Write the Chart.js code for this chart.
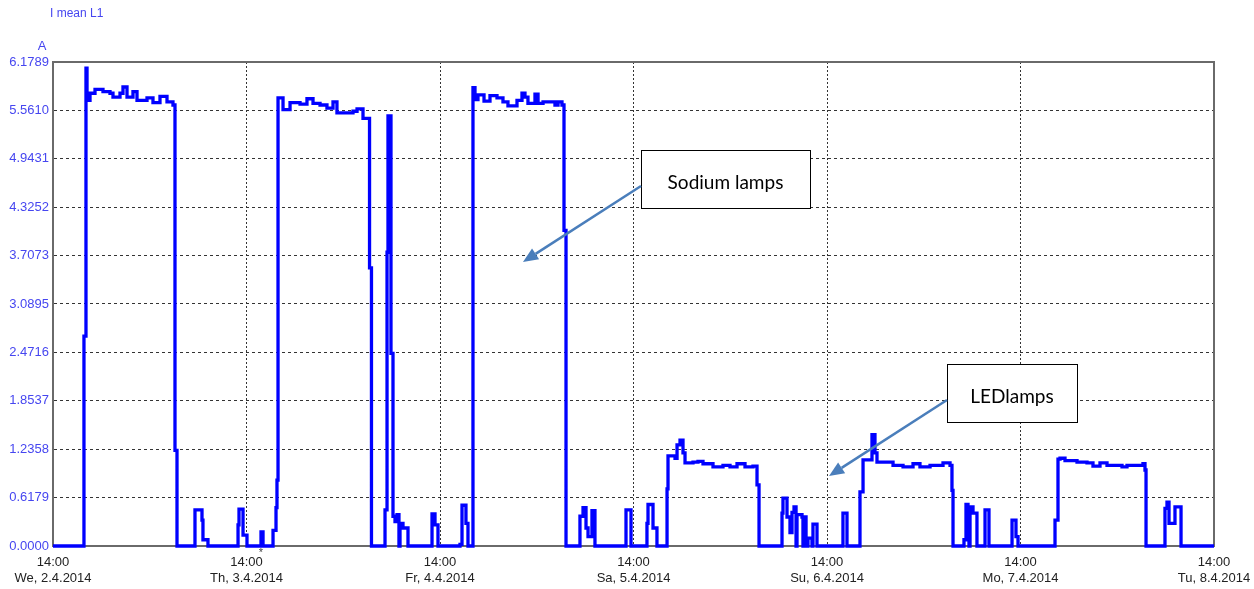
<!DOCTYPE html>
<html><head><meta charset="utf-8">
<script src="https://cdn.jsdelivr.net/npm/chart.js@4/dist/chart.umd.min.js"></script>
<style>html,body{margin:0;padding:0;background:#fff}</style>
</head><body>
<canvas id="c" width="1254" height="589"></canvas>
<script>
// time in hours after We, 2.4.2014 14:00 ; value in A (step changes)
const hours = [0,3.84,4.09,4.22,4.59,5.21,6.20,7.07,7.44,8.31,8.68,9.18,9.92,10.42,11.66,12.40,13.27,14.14,14.88,15.13,15.38,
17.61,18.48,18.60,19.22,22.95,23.07,23.57,24.06,25.80,26.05,27.29,27.66,27.78,
27.91,28.53,29.40,30.64,31.50,32.25,33.12,33.98,34.73,35.22,37.21,37.71,38.45,39.26,39.50,
41.18,41.43,41.55,41.92,42.17,42.42,42.67,42.91,43.04,43.41,44.03,47.01,47.38,47.75,50.48,50.73,51.22,51.47,
52.09,52.34,52.71,53.46,54.20,55.07,55.81,56.43,57.55,58.17,58.54,58.91,59.78,60.16,60.78,62.26,62.64,63.13,63.38,63.63,
65.36,65.74,66.11,66.36,66.85,67.22,71.07,71.69,73.67,73.80,74.42,74.91,
76.16,76.28,77.15,77.40,77.77,78.14,78.39,79.38,80.00,80.62,81.86,83.10,83.97,84.84,85.83,86.82,87.32,87.57,
90.42,90.54,91.04,91.41,91.66,91.91,92.16,92.28,92.90,93.02,93.15,93.40,93.64,94.14,94.26,94.76,97.98,98.48,
100.09,100.47,101.58,101.95,102.20,104.19,105.43,106.67,107.53,108.78,110.39,111.26,111.50,111.63,
112.99,113.24,113.49,113.61,113.74,114.11,114.60,115.60,116.09,118.95,119.44,119.69,
124.28,124.65,124.90,125.52,127.01,128.25,128.99,129.86,130.73,132.59,133.21,135.19,135.44,135.57,
137.92,138.17,138.42,139.16,139.91,144];
const amps = [0,2.68,6.10,5.69,5.78,5.83,5.80,5.78,5.73,5.78,5.86,5.73,5.80,5.69,5.72,5.66,5.74,5.67,5.63,1.22,0,
0.46,0.33,0.08,0,0.27,0.47,0.14,0,0.18,0,0.20,0.49,0.84,
5.72,5.57,5.66,5.64,5.71,5.65,5.63,5.59,5.67,5.53,5.55,5.58,5.46,3.55,0,
0.46,3.75,5.49,2.46,0.38,0.31,0.40,0,0.29,0.23,0,0.41,0.27,0,0.02,0.52,0.29,0,
5.85,5.70,5.76,5.68,5.75,5.72,5.67,5.62,5.69,5.78,5.73,5.65,5.77,5.65,5.67,5.63,5.67,5.63,4.03,0,
0.38,0.49,0.23,0.12,0.45,0,0.46,0,0.29,0.53,0.23,0,
0.73,1.15,1.12,1.29,1.35,1.19,1.06,1.07,1.08,1.05,1.01,1.03,1.01,1.05,1.01,1.02,0.78,0,
0.42,0.61,0.37,0.17,0.43,0.50,0,0.40,0.37,0,0.37,0,0.10,0,0.28,0,0.42,0,
0.69,1.10,1.42,1.19,1.07,1.03,1.01,1.05,1.01,1.03,1.06,1.03,0.71,0,
0.08,0.53,0.50,0,0.50,0.42,0,0.46,0,0.33,0.12,0,
0.33,1.11,1.12,1.09,1.07,1.06,1.02,1.06,1.03,1.01,1.03,1.05,0.97,0,
0.48,0.56,0.29,0.50,0,0];
const yTickLabels = ['0.0000','0.6179','1.2358','1.8537','2.4716','3.0895','3.7073','4.3252','4.9431','5.5610','6.1789'];
const xTickHours = [0,24,48,72,96,120,144];
const xTimeLabels = ['14:00','14:00','14:00','14:00','14:00','14:00','14:00'];
const xDayLabels = ['We, 2.4.2014','Th, 3.4.2014','Fr, 4.4.2014','Sa, 5.4.2014','Su, 6.4.2014','Mo, 7.4.2014','Tu, 8.4.2014'];
const seriesName = 'I mean L1';
const unitName = 'A';
const noteTexts = ['Sodium lamps','LEDlamps'];
const noteBoxX = [[72.93,93.89],[110.88,127.01]];
const noteBoxY = [[5.055,4.315],[2.323,1.583]];
const noteFrom = [[72.93,4.596],[110.88,1.864]];
const noteTo = [[58.29,3.626],[96.25,0.894]];
const markHour = 25.8;

const yTicks = yTickLabels.map(parseFloat);
const points = hours.map((h,i)=>({x:h,y:amps[i]}));

const annot = {
  id:'annot',
  beforeDatasetsDraw(chart){
    const {ctx, chartArea:a} = chart;
    ctx.save(); ctx.strokeStyle='#6a6a6a'; ctx.lineWidth=2;
    ctx.strokeRect(a.left, a.top, a.right-a.left, a.bottom-a.top); ctx.restore();
  },
  afterDatasetsDraw(chart){
    const {ctx} = chart; const xs=chart.scales.x, ys=chart.scales.y;
    ctx.save();
    for(let i=0;i<noteTexts.length;i++){
      const x1=xs.getPixelForValue(noteBoxX[i][0]), x2=xs.getPixelForValue(noteBoxX[i][1]);
      const y1=ys.getPixelForValue(noteBoxY[i][0]), y2=ys.getPixelForValue(noteBoxY[i][1]);
      ctx.fillStyle='#fff'; ctx.fillRect(x1,y1,x2-x1,y2-y1);
      ctx.strokeStyle='#000'; ctx.lineWidth=1; ctx.strokeRect(Math.round(x1)+0.5,Math.round(y1)+0.5,Math.round(x2-x1),Math.round(y2-y1));
      ctx.fillStyle='#000'; ctx.font='19px Lato'; ctx.textAlign='center'; ctx.textBaseline='middle';
      ctx.fillText(noteTexts[i], (x1+x2)/2, (y1+y2)/2+4);
      const fx=xs.getPixelForValue(noteFrom[i][0]), fy=ys.getPixelForValue(noteFrom[i][1]);
      const tx=xs.getPixelForValue(noteTo[i][0]), ty=ys.getPixelForValue(noteTo[i][1]);
      const ang=Math.atan2(ty-fy,tx-fx); const L=15, W=6.5;
      const bx=tx-L*Math.cos(ang), by=ty-L*Math.sin(ang);
      ctx.strokeStyle='#4a7ebb'; ctx.fillStyle='#4a7ebb'; ctx.lineWidth=2.5;
      ctx.beginPath(); ctx.moveTo(fx,fy); ctx.lineTo(bx,by); ctx.stroke();
      ctx.beginPath(); ctx.moveTo(tx,ty);
      ctx.lineTo(bx+W*Math.sin(ang), by-W*Math.cos(ang));
      ctx.lineTo(bx-W*Math.sin(ang), by+W*Math.cos(ang));
      ctx.closePath(); ctx.fill();
    }
    ctx.restore();
  },
  afterDraw(chart){
    const {ctx} = chart; const xs=chart.scales.x, ys=chart.scales.y;
    ctx.save();
    ctx.fillStyle='#4646f0'; ctx.font='12px "Liberation Sans"'; ctx.textBaseline='middle';
    ctx.textAlign='left'; ctx.fillText(seriesName, 50, 14);
    ctx.textAlign='center'; ctx.font='13px "Liberation Sans"'; ctx.fillText(unitName, 42, 46);
    ctx.fillStyle='#444'; ctx.font='11px "Liberation Sans"';
    ctx.fillText('*', xs.getPixelForValue(markHour), ys.bottom+7);
    ctx.restore();
  }
};

new Chart(document.getElementById('c'), {
  type:'line',
  data:{datasets:[{label:seriesName, data:points, borderColor:'#0000ff', borderWidth:3.3, pointRadius:0, stepped:true, fill:false, clip:false, borderJoinStyle:'miter'}]},
  options:{
    responsive:false, animation:false,
    layout:{padding:{left:0, top:62, right:40, bottom:0}},
    plugins:{legend:{display:false}, tooltip:{enabled:false}},
    scales:{
      x:{type:'linear', min:0, max:144,
        afterBuildTicks(s){ s.ticks = xTickHours.map(v=>({value:v})); },
        afterFit(s){ s.height=43; s.paddingLeft=0; s.paddingRight=0; },
        ticks:{autoSkip:false, maxRotation:0, padding:8, color:'#222', font:{family:'"Liberation Sans"', size:13, lineHeight:1.25},
          callback(v){ const i=xTickHours.indexOf(v); return i<0?'':[xTimeLabels[i], xDayLabels[i]]; }},
        grid:{color:'#333', lineWidth:1, drawTicks:false, tickBorderDash:[2,2]},
        border:{display:true, color:'#6a6a6a', width:2, dash:[2,2]}
      },
      y:{type:'linear', min:0, max:yTicks[yTicks.length-1],
        afterBuildTicks(s){ s.ticks = yTicks.map(v=>({value:v})); },
        afterFit(s){ s.width=53; s.paddingTop=0; s.paddingBottom=0; },
        ticks:{autoSkip:false, padding:4, color:'#4646f0', font:{family:'"Liberation Sans"', size:13},
          callback(v){ const i=yTicks.indexOf(v); return i<0?'':yTickLabels[i]; }},
        grid:{color:'#333', lineWidth:1, drawTicks:false},
        border:{display:true, color:'#6a6a6a', width:2, dash:[3,3]}
      }
    }
  },
  plugins:[annot]
});
</script>
</body></html>
